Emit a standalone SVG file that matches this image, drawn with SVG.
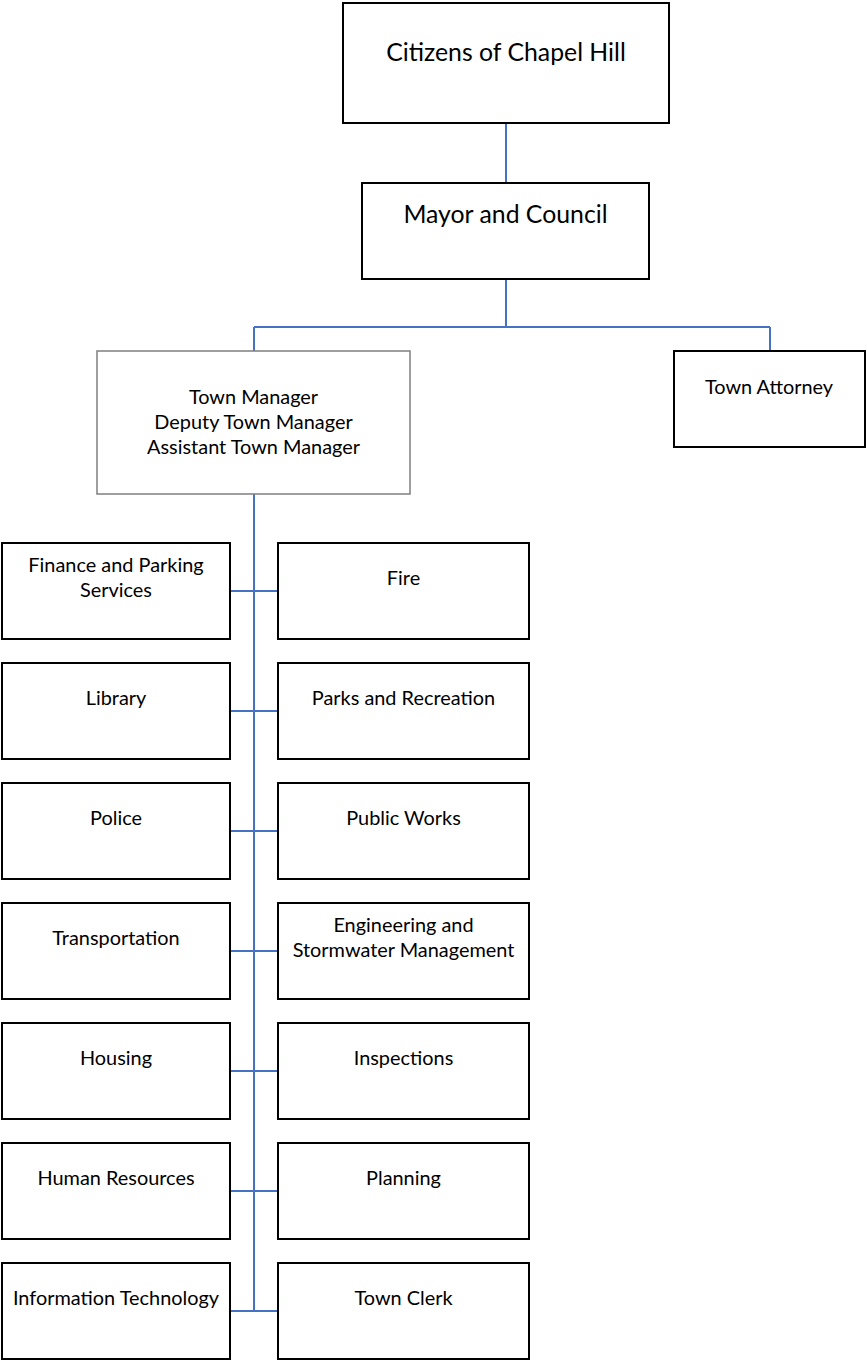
<svg xmlns="http://www.w3.org/2000/svg" width="867" height="1361" viewBox="0 0 867 1361">
<style>
.box{fill:#ffffff;stroke:#000000;stroke-width:2}
.gbox{fill:#ffffff;stroke:#7f7f7f;stroke-width:1.5}
.big{font-family:Lato,"Open Sans","Liberation Sans",sans-serif;font-size:24.8px;fill:#000;text-anchor:middle}
.t{font-family:Lato,"Open Sans","Liberation Sans",sans-serif;font-size:19.9px;fill:#000;text-anchor:middle}
.c{fill:none;stroke:#4472C4;stroke-width:2}
</style>
<rect width="867" height="1361" fill="#ffffff"/>
<g id="connectors">
<path class="c" d="M506,123V183"/>
<path class="c" d="M506,279V327M254,327H770M254,327V351M770,327V351"/>
<path class="c" d="M254,494V1311"/>
<path class="c" d="M230,591H278M230,711H278M230,831H278M230,951H278M230,1071H278M230,1191H278M230,1311H278"/>
</g>
<g id="citizens"><rect class="box" x="343" y="3" width="326" height="120"/><text class="big" x="506" y="61">Citizens of Chapel Hill</text></g>
<g id="mayor"><rect class="box" x="362" y="183" width="287" height="96"/><text class="big" x="505.5" y="223">Mayor and Council</text></g>
<g id="manager"><rect class="gbox" x="97" y="351" width="313" height="143"/><text class="t" x="253.5" y="404">Town Manager</text><text class="t" x="253.5" y="429">Deputy Town Manager</text><text class="t" x="253.5" y="454">Assistant Town Manager</text></g>
<g id="attorney"><rect class="box" x="674" y="351" width="191" height="96"/><text class="t" x="769" y="394">Town Attorney</text></g>
<g id="finance"><rect class="box" x="2" y="543" width="228" height="96"/><text class="t" x="116" y="572">Finance and Parking</text><text class="t" x="116" y="597">Services</text></g>
<g id="fire"><rect class="box" x="278" y="543" width="251" height="96"/><text class="t" x="403.5" y="585">Fire</text></g>
<g id="library"><rect class="box" x="2" y="663" width="228" height="96"/><text class="t" x="116" y="705">Library</text></g>
<g id="parks"><rect class="box" x="278" y="663" width="251" height="96"/><text class="t" x="403.5" y="705">Parks and Recreation</text></g>
<g id="police"><rect class="box" x="2" y="783" width="228" height="96"/><text class="t" x="116" y="825">Police</text></g>
<g id="publicworks"><rect class="box" x="278" y="783" width="251" height="96"/><text class="t" x="403.5" y="825">Public Works</text></g>
<g id="transportation"><rect class="box" x="2" y="903" width="228" height="96"/><text class="t" x="116" y="945">Transportation</text></g>
<g id="engineering"><rect class="box" x="278" y="903" width="251" height="96"/><text class="t" x="403.5" y="932">Engineering and</text><text class="t" x="403.5" y="957">Stormwater Management</text></g>
<g id="housing"><rect class="box" x="2" y="1023" width="228" height="96"/><text class="t" x="116" y="1065">Housing</text></g>
<g id="inspections"><rect class="box" x="278" y="1023" width="251" height="96"/><text class="t" x="403.5" y="1065">Inspections</text></g>
<g id="hr"><rect class="box" x="2" y="1143" width="228" height="96"/><text class="t" x="116" y="1185">Human Resources</text></g>
<g id="planning"><rect class="box" x="278" y="1143" width="251" height="96"/><text class="t" x="403.5" y="1185">Planning</text></g>
<g id="it"><rect class="box" x="2" y="1263" width="228" height="96"/><text class="t" x="116" y="1305">Information Technology</text></g>
<g id="clerk"><rect class="box" x="278" y="1263" width="251" height="96"/><text class="t" x="403.5" y="1305">Town Clerk</text></g>
</svg>
